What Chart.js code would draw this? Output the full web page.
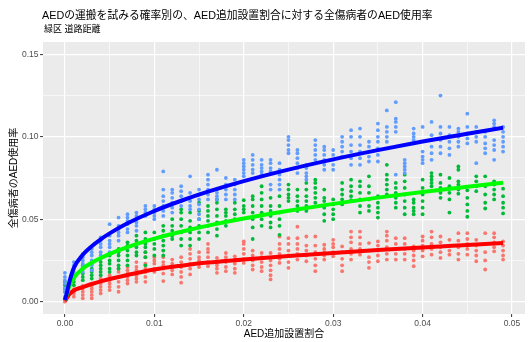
<!DOCTYPE html>
<html>
<head>
<meta charset="utf-8">
<script src="https://cdn.jsdelivr.net/npm/chart.js@4/dist/chart.umd.min.js"></script>
<style>
  html, body { margin: 0; padding: 0; background: #ffffff; }
  canvas { display: block; }
</style>
</head>
<body>
<canvas id="chart" width="529" height="342"></canvas>
<script>
// Text
const chartTitle = 'AEDの運搬を試みる確率別の、AED追加設置割合に対する全傷病者のAED使用率';
const chartSubtitle = '緑区 道路距離';
const xAxisTitle = 'AED追加設置割合';
const yAxisTitle = '全傷病者のAED使用率';

// Tick values and labels
const xMajorTicks = [0, 0.01, 0.02, 0.03, 0.04, 0.05];
const xTickLabels = ['0.00', '0.01', '0.02', '0.03', '0.04', '0.05'];
const yMajorTicks = [0, 0.05, 0.10, 0.15];
const yTickLabels = ['0.00', '0.05', '0.10', '0.15'];

// Additional installation share for each simulated column
const installShare = [
  0.000, 0.001, 0.002, 0.003, 0.004, 0.005, 0.006, 0.007, 0.008, 0.009,
  0.010, 0.011, 0.012, 0.013, 0.014, 0.015, 0.016, 0.017, 0.018, 0.019,
  0.020, 0.021, 0.022, 0.023, 0.024, 0.025, 0.026, 0.027, 0.028, 0.029,
  0.030, 0.031, 0.032, 0.033, 0.034, 0.035, 0.036, 0.037, 0.038, 0.039,
  0.040, 0.041, 0.042, 0.043, 0.044, 0.045, 0.046, 0.047, 0.048, 0.049
];

// Simulated usage rates per column: high carry probability
const highRates = [
  [0.006,0.008,0.011,0.013,0.015,0.0175],
  [0.016,0.018,0.02,0.022,0.024],
  [0.018,0.021,0.023,0.025,0.027,0.029],
  [0.019,0.022,0.025,0.028,0.03,0.032],
  [0.028,0.03,0.033,0.035,0.037,0.039],
  [0.03,0.033,0.035,0.037,0.04,0.047],
  [0.037,0.04,0.042,0.044,0.046,0.051],
  [0.042,0.044,0.047,0.049,0.051,0.053],
  [0.043,0.046,0.048,0.05,0.052,0.054],
  [0.052,0.054,0.056,0.058],
  [0.05,0.052,0.054,0.056,0.058],
  [0.052,0.055,0.058,0.061,0.064,0.068,0.079],
  [0.054,0.057,0.06,0.063,0.066,0.068],
  [0.058,0.061,0.064,0.067,0.07],
  [0.056,0.058,0.061,0.063,0.066,0.076],
  [0.05,0.053,0.056,0.059,0.062,0.065,0.068],
  [0.062,0.065,0.068,0.071,0.074,0.077],
  [0.062,0.064,0.066,0.068,0.08],
  [0.062,0.065,0.068,0.071,0.075],
  [0.062,0.065,0.068,0.071,0.074],
  [0.076,0.078,0.08,0.082,0.084,0.086],
  [0.078,0.08,0.083,0.086,0.089],
  [0.077,0.079,0.081,0.083,0.086],
  [0.068,0.071,0.079,0.081,0.084,0.086],
  [0.068,0.071,0.074,0.077,0.08,0.084],
  [0.09,0.092,0.095,0.098,0.1],
  [0.078,0.081,0.084,0.087,0.09,0.092],
  [0.074,0.076,0.078,0.081,0.083],
  [0.086,0.089,0.092,0.095,0.098],
  [0.08,0.083,0.086,0.089,0.092,0.094],
  [0.08,0.083,0.086,0.089,0.092],
  [0.088,0.091,0.094,0.097,0.1],
  [0.083,0.087,0.091,0.095,0.1,0.104],
  [0.083,0.087,0.091,0.095,0.1,0.105],
  [0.085,0.088,0.091,0.094,0.097],
  [0.085,0.089,0.093,0.097,0.1,0.104,0.108],
  [0.097,0.1,0.103,0.106,0.116],
  [0.077,0.103,0.106,0.109,0.111,0.121],
  [0.078,0.08,0.082,0.084,0.086],
  [0.096,0.098,0.1,0.102,0.105],
  [0.084,0.086,0.088,0.091,0.106],
  [0.086,0.09,0.094,0.098,0.101,0.109],
  [0.09,0.094,0.098,0.102,0.106,0.125],
  [0.089,0.093,0.097,0.101,0.106],
  [0.094,0.097,0.1,0.103,0.105],
  [0.096,0.099,0.102,0.106,0.114],
  [0.084,0.097,0.1,0.103,0.106],
  [0.09,0.093,0.096,0.1,0.103],
  [0.086,0.092,0.095,0.098,0.106,0.108,0.11],
  [0.091,0.094,0.097,0.1,0.103,0.106]
];

// Simulated usage rates per column: medium carry probability
const midRates = [
  [0.006,0.008,0.01,0.012],
  [0.01,0.012,0.014,0.016],
  [0.013,0.015,0.017,0.02,0.022],
  [0.014,0.016,0.018,0.02,0.023],
  [0.016,0.018,0.02,0.022,0.024,0.026],
  [0.018,0.02,0.023,0.025,0.028],
  [0.02,0.022,0.025,0.028,0.03,0.032],
  [0.022,0.025,0.028,0.031,0.034,0.036],
  [0.028,0.03,0.033,0.035,0.037,0.04],
  [0.022,0.027,0.03,0.033,0.035,0.038,0.042],
  [0.028,0.032,0.035,0.038,0.042],
  [0.028,0.031,0.034,0.037,0.04,0.043,0.046],
  [0.038,0.04,0.043,0.046,0.05],
  [0.034,0.038,0.042,0.046,0.05,0.054,0.056],
  [0.034,0.038,0.042,0.045,0.049,0.054],
  [0.038,0.042,0.046,0.05,0.055,0.06],
  [0.042,0.046,0.049,0.052,0.055,0.058],
  [0.04,0.044,0.048,0.052,0.056,0.06,0.062],
  [0.046,0.049,0.052,0.054,0.056],
  [0.05,0.053,0.056,0.06],
  [0.054,0.056,0.058,0.0615],
  [0.038,0.045,0.05,0.054,0.058,0.062,0.064],
  [0.046,0.05,0.054,0.058,0.062,0.066,0.07],
  [0.045,0.048,0.052,0.055,0.058,0.063],
  [0.0405,0.046,0.05,0.054,0.058,0.064],
  [0.061,0.063,0.065,0.068,0.071],
  [0.055,0.058,0.061,0.064,0.068],
  [0.055,0.058,0.061,0.064,0.068,0.072],
  [0.06,0.063,0.066,0.069,0.072,0.074],
  [0.049,0.053,0.057,0.061,0.063,0.068],
  [0.05,0.053,0.056,0.059,0.062],
  [0.059,0.062,0.065,0.068,0.072],
  [0.0615,0.064,0.067,0.07,0.074],
  [0.054,0.058,0.062,0.066,0.07,0.073],
  [0.055,0.058,0.062,0.066,0.07,0.076],
  [0.051,0.054,0.057,0.06,0.064],
  [0.065,0.068,0.071,0.074,0.077,0.083],
  [0.057,0.06,0.063,0.066,0.069,0.072],
  [0.053,0.057,0.061,0.065,0.069,0.073,0.077],
  [0.053,0.055,0.057,0.06,0.062],
  [0.053,0.057,0.061,0.065,0.069,0.074],
  [0.07,0.072,0.074,0.076,0.078],
  [0.063,0.066,0.069,0.072,0.077],
  [0.054,0.062,0.066,0.07,0.075],
  [0.0655,0.068,0.071,0.073,0.08,0.082],
  [0.0515,0.055,0.059,0.063,0.0675],
  [0.067,0.07,0.073,0.076],
  [0.0565,0.06,0.065,0.07,0.076],
  [0.062,0.065,0.068,0.071,0.073],
  [0.0535,0.057,0.06,0.064,0.0685]
];

// Simulated usage rates per column: low carry probability
const lowRates = [
  [0,0.001,0.002,0.003],
  [0.003,0.005,0.0065,0.0075],
  [0.002,0.004,0.006,0.008,0.0095],
  [0.002,0.004,0.006,0.008,0.01],
  [0.005,0.007,0.009,0.011,0.013,0.014],
  [0.007,0.009,0.011,0.013,0.015,0.016],
  [0.006,0.009,0.012,0.015,0.018,0.02],
  [0.011,0.013,0.015,0.017,0.019,0.021],
  [0.012,0.014,0.016,0.019,0.021,0.024],
  [0.012,0.015,0.018,0.02,0.023,0.027,0.03],
  [0.018,0.02,0.023,0.025,0.027],
  [0.0125,0.017,0.02,0.022,0.024,0.027],
  [0.0165,0.019,0.021,0.023,0.0255],
  [0.0115,0.015,0.018,0.021,0.024,0.027],
  [0.0165,0.02,0.023,0.026,0.029,0.032],
  [0.021,0.023,0.025,0.027,0.03],
  [0.0215,0.024,0.027,0.03,0.032,0.035],
  [0.0175,0.02,0.022,0.024,0.0265],
  [0.0185,0.021,0.024,0.027,0.0295],
  [0.0175,0.02,0.023,0.0255,0.0275],
  [0.0235,0.026,0.029,0.032,0.035,0.0365],
  [0.0195,0.022,0.025,0.028,0.031],
  [0.0185,0.021,0.024,0.027,0.0295],
  [0.0135,0.016,0.019,0.022,0.025,0.0295],
  [0.0235,0.026,0.029,0.032,0.035,0.0395],
  [0.0205,0.024,0.028,0.031,0.035,0.0385],
  [0.0255,0.029,0.032,0.035,0.0385,0.0455],
  [0.0245,0.028,0.031,0.034,0.0395],
  [0.0185,0.022,0.026,0.03,0.034,0.0395],
  [0.0255,0.028,0.03,0.032,0.0345],
  [0.0275,0.03,0.033,0.035,0.0375],
  [0.0185,0.022,0.026,0.03,0.0335],
  [0.0255,0.029,0.032,0.036,0.039,0.0425],
  [0.0285,0.032,0.035,0.039,0.0425],
  [0.0205,0.024,0.027,0.031,0.0355],
  [0.0245,0.028,0.031,0.034,0.0365],
  [0.0255,0.029,0.033,0.037,0.04,0.0425],
  [0.0255,0.029,0.032,0.035,0.0385],
  [0.0255,0.029,0.032,0.035,0.0385],
  [0.0215,0.025,0.028,0.031,0.0335],
  [0.0275,0.031,0.034,0.037,0.0395],
  [0.0285,0.032,0.035,0.039,0.0425],
  [0.0265,0.03,0.033,0.036,0.0395],
  [0.0285,0.031,0.034,0.0375],
  [0.0255,0.029,0.033,0.037,0.0415],
  [0.0285,0.032,0.035,0.038,0.0415],
  [0.0245,0.028,0.031,0.034,0.0375],
  [0.0195,0.025,0.03,0.035,0.0415],
  [0.0305,0.033,0.036,0.039,0.0415],
  [0.0255,0.028,0.031,0.034,0.0365]
];

// Fitted trend curves
const fitShare = [0, 0.0002, 0.0005, 0.001, 0.002, 0.003, 0.004, 0.005, 0.007, 0.010,
                  0.013, 0.016, 0.020, 0.025, 0.030, 0.035, 0.040, 0.045, 0.049];
const fitHigh = [0.001, 0.005, 0.012, 0.0205, 0.0284, 0.0336, 0.0378, 0.0414, 0.0475, 0.055,
                 0.0612, 0.0667, 0.0731, 0.0801, 0.0863, 0.0919, 0.0971, 0.1019, 0.1055];
const fitMid  = [0.001, 0.004, 0.0095, 0.0145, 0.0201, 0.0236, 0.0265, 0.029, 0.0331, 0.0382,
                 0.0424, 0.0461, 0.0504, 0.0551, 0.0593, 0.0631, 0.0665, 0.0697, 0.0721];
const fitLow  = [0.0005, 0.002, 0.0045, 0.0068, 0.0088, 0.0107, 0.0123, 0.0137, 0.0162, 0.0195,
                 0.0218, 0.0237, 0.0255, 0.0277, 0.0295, 0.0313, 0.0329, 0.0344, 0.0356];

const FONT = "'Liberation Sans', Arial, 'Noto Sans CJK JP', sans-serif";

function toPoints(columns) {
  const pts = [];
  columns.forEach((col, i) => col.forEach(v => pts.push({ x: installShare[i], y: v })));
  return pts;
}
function toCurve(xs, ys) {
  return xs.map((x, i) => ({ x: x, y: ys[i] }));
}
// Major ticks carry labels, minor ones (midpoints) only draw a grid line
function buildTicks(majors, labels) {
  const out = [];
  majors.forEach((v, i) => {
    out.push({ value: v, label: labels[i], major: true });
    if (i < majors.length - 1) out.push({ value: (v + majors[i + 1]) / 2, label: '', major: false });
  });
  return out;
}
const xTickList = buildTicks(xMajorTicks, xTickLabels);
const yTickList = buildTicks(yMajorTicks, yTickLabels);

function axisOptions(list, min, max, isY) {
  return {
    type: 'linear',
    min: min,
    max: max,
    afterBuildTicks: (scale) => { scale.ticks = list.map(t => ({ value: t.value })); },
    afterFit: (scale) => { if (isY) scale.width = 43; else scale.height = 28; },
    border: { display: false },
    grid: {
      color: '#FFFFFF',
      lineWidth: (ctx) => (list[ctx.index] && list[ctx.index].major) ? 1.2 : 0.6,
      tickLength: 3,
      tickWidth: 1,
      tickColor: (ctx) => (list[ctx.index] && list[ctx.index].major) ? '#333333' : 'rgba(0,0,0,0)',
      drawOnChartArea: true
    },
    ticks: {
      autoSkip: false,
      maxRotation: 0,
      padding: isY ? 1.5 : 2,
      color: '#4D4D4D',
      font: { family: FONT, size: 8.5 },
      callback: (value, index) => list[index] ? list[index].label : ''
    }
  };
}

const panelAndText = {
  id: 'panelAndText',
  beforeDraw(chart) {
    const { ctx, chartArea: a } = chart;
    ctx.save();
    ctx.fillStyle = '#EBEBEB';
    ctx.fillRect(a.left, a.top, a.right - a.left, a.bottom - a.top);
    ctx.restore();
  },
  afterDraw(chart) {
    const { ctx, chartArea: a } = chart;
    ctx.save();
    ctx.fillStyle = '#000000';
    ctx.textBaseline = 'middle';
    ctx.textAlign = 'left';
    ctx.font = '10.8px ' + FONT;
    ctx.fillText(chartTitle, 42, 16);
    ctx.font = '9px ' + FONT;
    ctx.fillText(chartSubtitle, 44, 30);
    ctx.textAlign = 'center';
    ctx.font = '10px ' + FONT;
    ctx.fillText(xAxisTitle, (a.left + a.right) / 2, 334);
    ctx.translate(14, (a.top + a.bottom) / 2);
    ctx.rotate(-Math.PI / 2);
    ctx.fillText(yAxisTitle, 0, 0);
    ctx.restore();
  }
};

function pointSet(columns, color, order) {
  return {
    data: toPoints(columns),
    showLine: false,
    pointRadius: 1.9,
    pointBorderWidth: 0,
    pointBackgroundColor: color,
    pointBorderColor: color,
    order: order
  };
}
function curveSet(xs, ys, color, order) {
  return {
    data: toCurve(xs, ys),
    showLine: true,
    borderColor: color,
    borderWidth: 4,
    pointRadius: 0,
    cubicInterpolationMode: 'monotone',
    fill: false,
    order: order
  };
}

new Chart(document.getElementById('chart'), {
  type: 'scatter',
  data: {
    datasets: [
      curveSet(fitShare, fitHigh, '#0000FF', 0),
      curveSet(fitShare, fitMid, '#00FF00', 1),
      curveSet(fitShare, fitLow, '#FF0000', 2),
      pointSet(highRates, '#619CFF', 3),
      pointSet(midRates, '#00BA38', 4),
      pointSet(lowRates, '#F8766D', 5)
    ]
  },
  options: {
    responsive: false,
    animation: false,
    devicePixelRatio: 1,
    layout: { padding: { top: 42, right: 2, bottom: 0, left: 0 } },
    plugins: {
      legend: { display: false },
      tooltip: { enabled: false },
      title: { display: false }
    },
    scales: {
      x: axisOptions(xTickList, -0.00245, 0.05145, false),
      y: axisOptions(yTickList, -0.0075, 0.1575, true)
    }
  },
  plugins: [panelAndText]
});
</script>
</body>
</html>
